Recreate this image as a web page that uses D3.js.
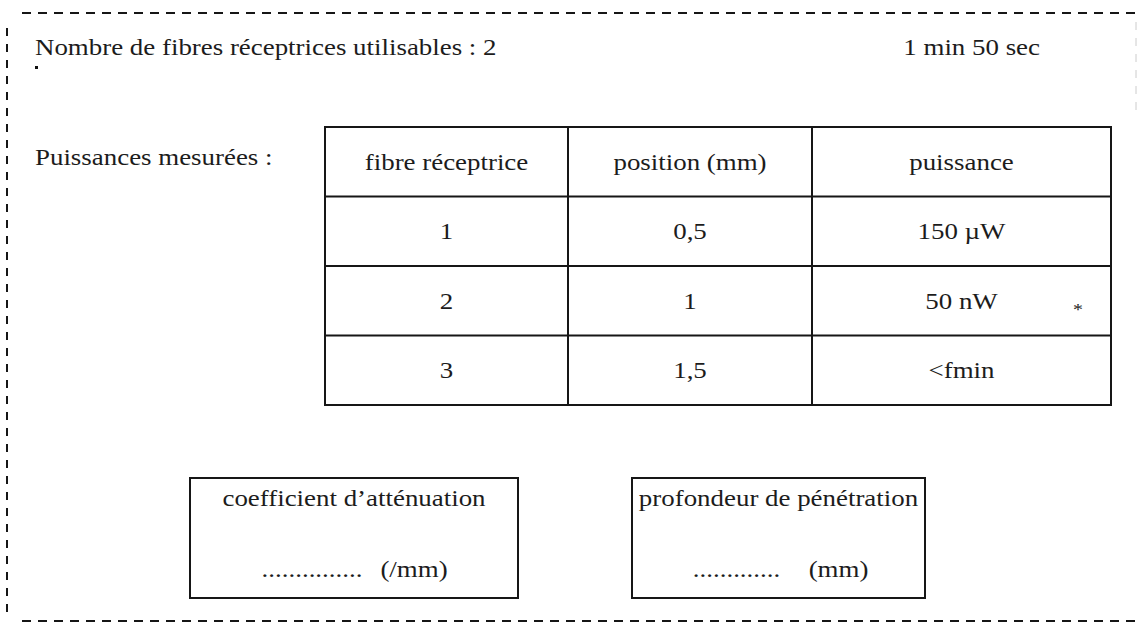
<!DOCTYPE html>
<html><head><meta charset="utf-8">
<script src="https://cdn.jsdelivr.net/npm/d3@7"></script>
<style>body{margin:0;background:#fff}svg{display:block}text{font-family:"Liberation Serif","Times New Roman",serif;fill:#1c1c1c}</style>
</head><body>
<script>
const title = "Nombre de fibres réceptrices utilisables : 2";
const duration = "1 min 50 sec";
const tableLabel = "Puissances mesurées :";
const headers = ["fibre réceptrice", "position (mm)", "puissance"];
const fibres = ["1", "2", "3"];
const positions = ["0,5", "1", "1,5"];
const powers = ["150 µW", "50 nW", "<fmin"];
const notes = ["", "*", ""];
const resultTitles = ["coefficient d\u2019atténuation", "profondeur de pénétration"];
const resultDots = ["...............", "............."];
const resultUnits = ["(/mm)", "(mm)"];

const W = 1138, H = 631;
const FS = 23, SX = 1.17;
const svg = d3.select("body").append("svg").attr("width", W).attr("height", H);

function txt(parent, x, y, s, anchor, size) {
  return parent.append("g").attr("transform", `translate(${x},${y}) scale(${SX},1)`)
    .append("text").attr("font-size", size || FS).attr("text-anchor", anchor || "start").text(s);
}

// dashed frame
const frame = svg.append("g").attr("stroke", "#161616").attr("stroke-width", 2).attr("fill", "none");
frame.append("line").attr("x1", 22).attr("x2", W).attr("y1", 13).attr("y2", 13).attr("stroke-dasharray", "9,7");
frame.append("line").attr("x1", 22).attr("x2", W).attr("y1", 621).attr("y2", 621).attr("stroke-dasharray", "9,7");
frame.append("line").attr("x1", 7).attr("x2", 7).attr("y1", 28).attr("y2", 618).attr("stroke-dasharray", "8,8");
frame.append("line").attr("x1", 1136).attr("x2", 1136).attr("y1", 22).attr("y2", 110).attr("stroke", "#ccc").attr("stroke-width", 1).attr("stroke-dasharray", "8,8");

// header texts
txt(svg, 35, 55, title);
svg.append("rect").attr("x", 35).attr("y", 66).attr("width", 3).attr("height", 3).attr("fill", "#111");
txt(svg, 1040, 55, duration, "end");
txt(svg, 35, 165, tableLabel);

// table
const rows = [headers].concat(fibres.map((f, i) => [f, positions[i], powers[i]]));
const y = d3.scaleBand().domain(d3.range(rows.length)).range([127, 405]);
const colX = d3.scaleLinear().domain([0, 1, 2, 3]).range([325, 568, 812, 1111]);
const t = svg.append("g");
t.append("rect").attr("x", colX(0)).attr("y", y.range()[0])
  .attr("width", colX(3) - colX(0)).attr("height", y.range()[1] - y.range()[0])
  .attr("fill", "none").attr("stroke", "#161616").attr("stroke-width", 2);
t.selectAll("line.v").data([1, 2]).join("line").attr("class", "v")
  .attr("x1", d => colX(d)).attr("x2", d => colX(d))
  .attr("y1", y.range()[0]).attr("y2", y.range()[1]).attr("stroke", "#161616").attr("stroke-width", 2);
t.selectAll("line.h").data(d3.range(1, rows.length)).join("line").attr("class", "h")
  .attr("x1", colX(0)).attr("x2", colX(3))
  .attr("y1", d => y(d)).attr("y2", d => y(d)).attr("stroke", "#161616").attr("stroke-width", 2);
rows.forEach((r, i) => {
  r.forEach((c, j) => {
    txt(t, (colX(j) + colX(j + 1)) / 2, y(i) + y.bandwidth() / 2 + 8, c, "middle");
  });
  if (i > 0 && notes[i - 1]) {
    txt(t, 1078, y(i) + y.bandwidth() / 2 + 14, notes[i - 1], "middle", 17);
  }
});

// result boxes
const boxes = [[190, 518], [632, 925]];
boxes.forEach((b, i) => {
  svg.append("rect").attr("x", b[0]).attr("y", 478).attr("width", b[1] - b[0]).attr("height", 120)
    .attr("fill", "none").attr("stroke", "#161616").attr("stroke-width", 2);
  txt(svg, (b[0] + b[1]) / 2, 506, resultTitles[i], "middle");
  txt(svg, (b[0] + b[1]) / 2 - 42, 577, resultDots[i], "middle");
  txt(svg, (b[0] + b[1]) / 2 + 60, 577, resultUnits[i], "middle");
});
</script>
</body></html>
